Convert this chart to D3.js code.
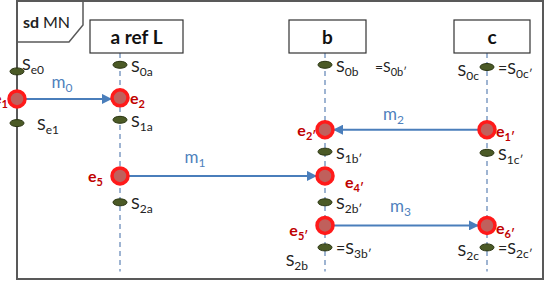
<!DOCTYPE html>
<html>
<head>
<meta charset="utf-8">
<script src="https://cdn.jsdelivr.net/npm/d3@7"></script>
<style>
  body { margin: 0; background: #fff; }
  text { font-family: Lato, "Open Sans", sans-serif; }
</style>
</head>
<body>
<div id="chart"></div>
<script>
// lifelines of the diagram ("env" is the frame border itself)
var lifelines = ["env", "a", "b", "c"];
var heads = [
  { id: "a", title: "a ref L" },
  { id: "b", title: "b" },
  { id: "c", title: "c" }
];

// states: lifeline, time, label (main|subscript), optional extra label on the other side
var states = [
  { line: "env", t: 1.2,  label: "S|e0" },
  { line: "env", t: 3.55, label: "S|e1" },
  { line: "a",   t: 0.9,  label: "S|0a" },
  { line: "a",   t: 3.4,  label: "S|1a" },
  { line: "a",   t: 7.15, label: "S|2a" },
  { line: "b",   t: 0.9,  label: "S|0b", extra: "=S|0b′" },
  { line: "b",   t: 4.85, label: "S|1b′" },
  { line: "b",   t: 7.15, label: "S|2b′" },
  { line: "b",   t: 9.2,  label: "=S|3b′", left: "S|2b" },
  { line: "c",   t: 1.0,  label: "=S|0c′", left: "S|0c" },
  { line: "c",   t: 4.9,  label: "S|1c′" },
  { line: "c",   t: 9.2,  label: "=S|2c′", left: "S|2c" }
];

// events: lifeline, time, label
var events = [
  { id: "e1",  line: "env", t: 2.45, label: "e|1" },
  { id: "e2",  line: "a",   t: 2.4,  label: "e|2" },
  { id: "e5",  line: "a",   t: 5.95, label: "e|5" },
  { id: "e2'", line: "b",   t: 3.85, label: "e|2′" },
  { id: "e4'", line: "b",   t: 5.95, label: "e|4′" },
  { id: "e5'", line: "b",   t: 8.2,  label: "e|5′" },
  { id: "e1'", line: "c",   t: 3.85, label: "e|1′" },
  { id: "e6'", line: "c",   t: 8.2,  label: "e|6′" }
];

// messages between events
var messages = [
  { from: "e1",  to: "e2",  label: "m|0" },
  { from: "e5",  to: "e4'", label: "m|1" },
  { from: "e1'", to: "e2'", label: "m|2" },
  { from: "e5'", to: "e6'", label: "m|3" }
];

var width = 553, height = 283;

var svg = d3.select("#chart")
  .append("svg")
  .attr("width", width)
  .attr("height", height);

var x = d3.scaleOrdinal().domain(lifelines).range([17, 120, 325, 487]);
var y = d3.scaleLinear().domain([0, 10]).range([45, 265]);

// layout tweaks (label placement)
var eventLabelPos = {
  "e1":  { dx: -9,  dy: 5,  anchor: "end" },
  "e2":  { dx: 10,  dy: 6,  anchor: "start" },
  "e5":  { dx: -17, dy: 6,  anchor: "end" },
  "e2'": { dx: -9,  dy: 6,  anchor: "end" },
  "e4'": { dx: 20,  dy: 12, anchor: "start" },
  "e5'": { dx: -17, dy: 11, anchor: "end" },
  "e1'": { dx: 9,   dy: 7,  anchor: "start" },
  "e6'": { dx: 9,   dy: 9,  anchor: "start" }
};
var msgLabelDx = { m0: -17, m1: -38, m2: -23, m3: -16 };
var msgLabelDy = { m0: -11, m1: -13, m2: -10, m3: -13 };
var headBox = { a: [90, 183], b: [289, 366], c: [454, 530] };

svg.append("defs").append("marker")
  .attr("id", "arrow")
  .attr("viewBox", "0 0 10 10")
  .attr("refX", 9).attr("refY", 5)
  .attr("markerWidth", 5).attr("markerHeight", 5)
  .attr("markerUnits", "strokeWidth")
  .attr("orient", "auto")
  .append("path")
  .attr("d", "M0,0L10,5L0,10z")
  .attr("fill", "#4a7ebb");

// write "main|sub" as text with a subscript
function subText(sel, str, size, subSize) {
  var parts = str.split("|");
  sel.append("tspan").attr("font-size", size).text(parts[0]);
  if (parts[1]) {
    sel.append("tspan").attr("font-size", subSize).attr("dy", 4).text(parts[1]);
  }
}

// frame
svg.append("rect")
  .attr("x", 17).attr("y", 1)
  .attr("width", 526).attr("height", 278)
  .attr("fill", "none")
  .attr("stroke", "#595959")
  .attr("stroke-width", 2);

svg.append("path")
  .attr("d", "M17,42L69,42L83,25L83,1")
  .attr("fill", "none")
  .attr("stroke", "#595959")
  .attr("stroke-width", 1.5);

var title = svg.append("text").attr("x", 23).attr("y", 28).attr("fill", "#222");
title.append("tspan").attr("font-size", 16).attr("font-weight", "bold").text("sd ");
title.append("tspan").attr("font-size", 16).text("MN");

// lifeline heads and dashed lines
heads.forEach(function(h) {
  var bx = headBox[h.id];
  svg.append("line")
    .attr("x1", x(h.id)).attr("x2", x(h.id))
    .attr("y1", 53).attr("y2", y(10.3))
    .attr("stroke", "#7f9cc4")
    .attr("stroke-width", 1.5)
    .attr("stroke-dasharray", "5,4");
  svg.append("rect")
    .attr("x", bx[0]).attr("y", 20)
    .attr("width", bx[1] - bx[0]).attr("height", 33)
    .attr("fill", "#fff")
    .attr("stroke", "#333")
    .attr("stroke-width", 1.2);
  svg.append("text")
    .attr("x", (bx[0] + bx[1]) / 2).attr("y", 44)
    .attr("text-anchor", "middle")
    .attr("font-size", 19)
    .attr("font-weight", "bold")
    .attr("fill", "#111")
    .text(h.title);
});

// states
var byId = {};
events.forEach(function(e) { byId[e.id] = e; });

states.forEach(function(s) {
  var cx = x(s.line), cy = y(s.t);
  svg.append("ellipse")
    .attr("cx", cx).attr("cy", cy)
    .attr("rx", 7).attr("ry", 3.5)
    .attr("fill", "#4b5a26")
    .attr("stroke", "#2a3512")
    .attr("stroke-width", 1);
  var lab = svg.append("text")
    .attr("x", cx + (s.line === "env" && s.t < 2 ? 5 : (s.line === "env" ? 20 : 11)))
    .attr("y", cy + (s.line === "env" && s.t < 2 ? -1 : 7))
    .attr("fill", "#222");
  subText(lab, s.label, 16, 12);
  if (s.extra) {
    var ex = svg.append("text").attr("x", cx + 50).attr("y", cy + 7).attr("fill", "#222");
    subText(ex, s.extra, 14, 11);
  }
  if (s.left) {
    var lt = svg.append("text")
      .attr("x", cx - (s.line === "b" ? 17 : 8))
      .attr("y", cy + (s.line === "b" ? 19 : 9))
      .attr("text-anchor", "end")
      .attr("fill", "#222");
    subText(lt, s.left, 16, 12);
  }
});

// messages
messages.forEach(function(m) {
  var a = byId[m.from], b = byId[m.to];
  var x1 = x(a.line), x2 = x(b.line), yy = y(a.t);
  var dir = x2 > x1 ? 1 : -1;
  var key = m.label.replace("|", "");
  svg.append("line")
    .attr("x1", x1 + dir * 8).attr("x2", x2 - dir * 9)
    .attr("y1", yy).attr("y2", yy)
    .attr("stroke", "#4a7ebb")
    .attr("stroke-width", 2)
    .attr("marker-end", "url(#arrow)");
  var lab = svg.append("text")
    .attr("x", (x1 + x2) / 2 + msgLabelDx[key])
    .attr("y", yy + msgLabelDy[key])
    .attr("fill", "#4f81bd");
  subText(lab, m.label, 17, 12);
});

// events
events.forEach(function(e) {
  var cx = x(e.line), cy = y(e.t);
  svg.append("circle")
    .attr("cx", cx).attr("cy", cy)
    .attr("r", 8)
    .attr("fill", "#c0605c")
    .attr("stroke", "#ff1a1a")
    .attr("stroke-width", 3.5);
  var p = eventLabelPos[e.id];
  var lab = svg.append("text")
    .attr("x", cx + p.dx).attr("y", cy + p.dy)
    .attr("text-anchor", p.anchor)
    .attr("font-weight", "bold")
    .attr("fill", "#c00000");
  subText(lab, e.label, 16, 11);
});
</script>
</body>
</html>
